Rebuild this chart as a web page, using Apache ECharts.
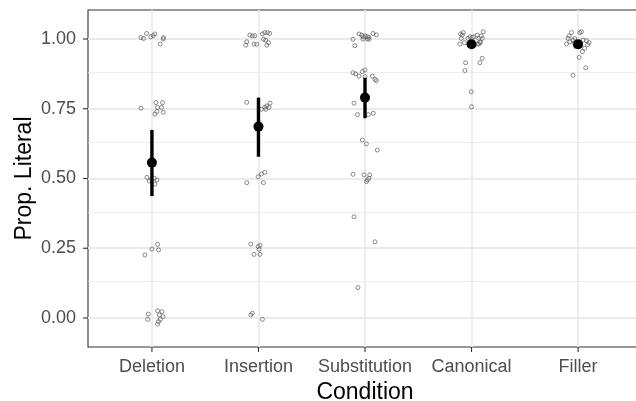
<!DOCTYPE html>
<html>
<head>
<meta charset="utf-8">
<script src="https://cdn.jsdelivr.net/npm/echarts@6/dist/echarts.min.js"></script>
<style>
html,body{margin:0;padding:0;background:#fff;}
#chart{width:636px;height:401px;}
</style>
</head>
<body>
<div id="chart"></div>
<script>
const categories = ['Deletion', 'Insertion', 'Substitution', 'Canonical', 'Filler'];
const yTicks = [0, 0.25, 0.5, 0.75, 1.0];
const yMinorTicks = [0.125, 0.375, 0.625, 0.875];

// summary: mean and confidence interval per condition
const means  = [0.557, 0.686, 0.790, 0.981, 0.981];
const ciLow  = [0.437, 0.578, 0.716, 0.972, 0.972];
const ciHigh = [0.674, 0.790, 0.861, 0.990, 0.990];

// jittered participant points: [horizontal jitter, proportion]
const deletionPts = [
  [-0.103,1.005],[-0.078,1.002],[-0.05,1.020],[-0.01,1.008],[0.012,1.012],[0.028,1.018],[0.078,0.982],[0.106,1.0],[0.109,1.005],
  [-0.103,0.752],[0.037,0.772],[0.1,0.772],[0.053,0.755],[0.09,0.755],[0.106,0.737],[0.028,0.731],[0.047,0.740],
  [-0.047,0.504],[-0.025,0.491],[-0.003,0.497],[0.022,0.501],[0.047,0.495],[0.028,0.480],
  [-0.066,0.226],[0.0,0.247],[0.053,0.264],[0.062,0.244],
  [-0.034,0.014],[-0.04,-0.005],[0.053,0.026],[0.094,0.023],[0.106,0.005],[0.069,0.011],[0.078,-0.005],[0.053,-0.022],[0.062,-0.013]
];
const insertionPts = [
  [-0.081,1.014],[-0.056,1.011],[-0.035,1.012],[-0.11,0.99],[-0.119,0.978],[-0.041,0.982],[-0.016,0.981],[0.037,1.018],[0.059,1.023],
  [0.084,1.023],[0.106,1.020],[0.047,0.999],[0.068,0.996],[0.094,0.987],[0.078,0.978],
  [-0.11,0.773],[0.028,0.748],[0.059,0.755],[0.078,0.760],[0.1,0.755],[0.109,0.770],[0.068,0.748],
  [-0.003,0.506],[0.028,0.516],[0.059,0.522],[-0.11,0.485],[0.047,0.485],
  [-0.072,0.265],[-0.003,0.256],[0.015,0.261],[0.006,0.246],[-0.041,0.228],[0.015,0.228],
  [-0.072,0.011],[-0.056,0.017],[0.037,-0.005]
];
const substitutionPts = [
  [-0.112,0.999],[-0.096,0.976],[-0.056,1.018],[-0.031,1.014],[-0.019,1.008],[0.0,1.011],[0.022,1.008],[0.037,1.006],[0.037,0.999],
  [0.075,1.020],[0.107,1.015],[-0.019,1.0],[0.022,1.0],
  [-0.112,0.879],[-0.087,0.875],[-0.056,0.867],[-0.025,0.883],[0.0,0.889],[0.0,0.865],[0.069,0.867],[0.094,0.855],[0.107,0.851],
  [-0.103,0.770],[-0.071,0.729],[0.031,0.729],[0.078,0.734],
  [-0.025,0.638],[0.013,0.624],[0.116,0.602],
  [-0.112,0.515],[-0.009,0.513],[0.044,0.513],[0.037,0.501],[0.022,0.495],[0.013,0.489],
  [-0.103,0.363],[0.094,0.273],[-0.066,0.109]
];
const canonicalPts = [
  [-0.109,0.982],[-0.096,1.002],[-0.087,1.014],[-0.078,1.023],[-0.103,1.018],[-0.066,0.987],[-0.034,1.002],[-0.016,1.008],[0.006,1.006],
  [0.022,1.008],[0.053,1.014],[0.068,1.002],[0.078,0.990],[0.091,1.011],[0.1,1.002],[0.11,1.026],[0.053,0.982],[0.068,0.982],[0.084,0.987],
  [-0.056,0.915],[-0.062,0.887],[0.078,0.915],[0.1,0.931],[-0.003,0.811],[0.0,0.757]
];
const fillerPts = [
  [-0.062,1.023],[-0.084,1.011],[-0.094,1.002],[-0.109,0.982],[-0.078,0.990],[-0.047,0.996],[-0.031,1.002],[0.016,1.023],[0.031,1.026],
  [0.047,0.996],[0.078,0.994],[0.103,0.987],[0.062,0.967],[0.041,0.955],[0.01,0.934],[0.072,0.897],[-0.047,0.870],[-0.022,0.973],
  [-0.035,0.985],[0.02,0.975],[0.09,0.98]
];
const pointGroups = [deletionPts, insertionPts, substitutionPts, canonicalPts, fillerPts];

const X_MIN = 0.4, X_MAX = 5.6, Y_MIN = -0.104, Y_MAX = 1.104;

const chart = echarts.init(document.getElementById('chart'), null, {renderer: 'canvas'});

const jitterData = [];
pointGroups.forEach((g, i) => g.forEach(p => jitterData.push([i + 1 + p[0], p[1]])));
const summaryData = means.map((m, i) => [i + 1, m]);
const ciData = means.map((m, i) => [i + 1, ciLow[i], ciHigh[i]]);

const gridLines = [];
yTicks.forEach(v => gridLines.push({yAxis: v, lineStyle: {color: '#ebebeb', width: 1.8, type: 'solid'}}));
yMinorTicks.forEach(v => gridLines.push({yAxis: v, lineStyle: {color: '#ebebeb', width: 0.9, type: 'solid'}}));
categories.forEach((c, i) => gridLines.push({xAxis: i + 1, lineStyle: {color: '#ebebeb', width: 1.8, type: 'solid'}}));

// tick marks (outside the panel), one item per tick: [axis(0=x,1=y), value]
const tickData = [];
categories.forEach((c, i) => tickData.push([0, i + 1]));
yTicks.forEach(v => tickData.push([1, v]));

const FONT = 'Liberation Sans, Arial, Helvetica, sans-serif';
const TICK_LEN = 5;

chart.setOption({
  animation: false,
  backgroundColor: '#ffffff',
  grid: {
    left: 88, top: 10, right: -6, bottom: 54, outerBoundsMode: 'none',
    show: true, borderColor: '#333333', borderWidth: 1.1, backgroundColor: '#ffffff'
  },
  xAxis: {
    type: 'value', min: X_MIN, max: X_MAX,
    name: 'Condition', nameLocation: 'middle', nameGap: 34, nameMoveOverlap: false,
    nameTextStyle: {fontFamily: FONT, fontSize: 23, color: '#000000'},
    axisLine: {show: false, onZero: false},
    splitLine: {show: false},
    axisTick: {show: false},
    axisLabel: {
      customValues: [1, 2, 3, 4, 5], margin: 11,
      fontFamily: FONT, fontSize: 18, color: '#4d4d4d',
      formatter: v => categories[Math.round(v) - 1] || ''
    }
  },
  yAxis: {
    type: 'value', min: Y_MIN, max: Y_MAX,
    name: 'Prop. Literal', nameLocation: 'middle', nameGap: 52, nameMoveOverlap: false,
    nameTextStyle: {fontFamily: FONT, fontSize: 23, color: '#000000'},
    axisLine: {show: false, onZero: false},
    splitLine: {show: false},
    axisTick: {show: false},
    axisLabel: {
      customValues: yTicks, margin: 12,
      fontFamily: FONT, fontSize: 18, color: '#4d4d4d',
      formatter: v => v.toFixed(2)
    }
  },
  series: [
    {
      type: 'scatter', data: [], silent: true, z: 1,
      markLine: {silent: true, z: 1, symbol: 'none', label: {show: false}, animation: false, data: gridLines}
    },
    {
      type: 'custom', data: tickData, z: 10, clip: false,
      renderItem: (params, api) => {
        const isY = api.value(0) === 1;
        const v = api.value(1);
        const p = isY ? api.coord([X_MIN, v]) : api.coord([v, Y_MIN]);
        const shape = isY ? {x1: p[0] - TICK_LEN, y1: p[1], x2: p[0], y2: p[1]}
                          : {x1: p[0], y1: p[1], x2: p[0], y2: p[1] + TICK_LEN};
        return {type: 'line', shape: shape, style: {stroke: '#333333', lineWidth: 1.1}};
      }
    },
    {
      type: 'scatter', data: jitterData, z: 3, silent: true,
      symbol: 'circle', symbolSize: 4,
      itemStyle: {color: 'rgba(255,255,255,0)', borderColor: '#5a5a5a', borderWidth: 0.7, opacity: 1}
    },
    {
      type: 'custom', data: ciData, z: 4, silent: true,
      renderItem: (params, api) => {
        const x = api.value(0);
        const lo = api.coord([x, api.value(1)]);
        const hi = api.coord([x, api.value(2)]);
        const w = 3.4;
        return {type: 'rect', shape: {x: lo[0] - w / 2, y: hi[1], width: w, height: lo[1] - hi[1]},
                style: {fill: '#000000', stroke: null}};
      }
    },
    {
      type: 'scatter', data: summaryData, z: 5, silent: true,
      symbol: 'circle', symbolSize: 10,
      itemStyle: {color: '#000000', opacity: 1}
    }
  ]
});
</script>
</body>
</html>
